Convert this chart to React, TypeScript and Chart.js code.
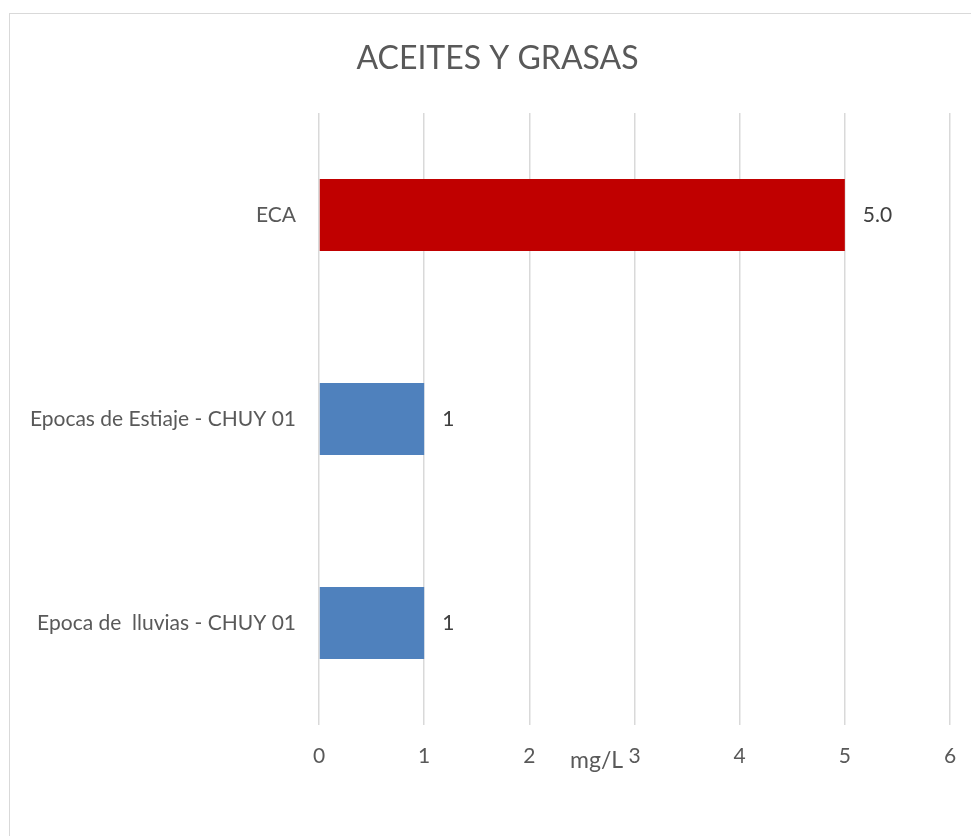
import React, { useEffect, useRef } from "react";
import { Chart, registerables } from "chart.js";

Chart.register(...registerables);

const chartTitle = "ACEITES Y GRASAS";
const categories = ["ECA", "Epocas de Estiaje - CHUY 01", "Epoca de  lluvias - CHUY 01"];
const values = [5, 1, 1];
const valueDecimals = [1, 0, 0];
const barColors = ["#C00000", "#4F81BD", "#4F81BD"];
const xTicks = [0, 1, 2, 3, 4, 5, 6];
const xAxisTitle = "mg/L";

const FONT = "Lato, 'Open Sans', sans-serif";
const TEXT = "#595959";

const titlePlugin = {
  id: "customTitle",
  afterDraw(chart: any) {
    const ctx = chart.ctx;
    ctx.save();
    ctx.font = `32px ${FONT}`;
    ctx.fillStyle = TEXT;
    ctx.textAlign = "center";
    ctx.textBaseline = "middle";
    ctx.fillText(chartTitle, chart.width / 2 + 6.5, 44.5);
    ctx.restore();
  },
};

const valueLabelPlugin = {
  id: "valueLabels",
  afterDatasetsDraw(chart: any) {
    const ctx = chart.ctx;
    const meta = chart.getDatasetMeta(0);
    ctx.save();
    ctx.font = `21px ${FONT}`;
    ctx.fillStyle = "#404040";
    ctx.textAlign = "left";
    ctx.textBaseline = "middle";
    meta.data.forEach((bar: any, i: number) => {
      const txt = values[i].toFixed(valueDecimals[i]);
      ctx.fillText(txt, bar.x + 18, bar.y);
    });
    ctx.restore();
  },
};

const axisTitlePlugin = {
  id: "axisTitle",
  afterDraw(chart: any) {
    const ctx = chart.ctx;
    const xs = chart.scales.x;
    ctx.save();
    ctx.font = `23px ${FONT}`;
    ctx.fillStyle = TEXT;
    ctx.textAlign = "center";
    ctx.textBaseline = "alphabetic";
    const px = xs.getPixelForValue(2.64);
    ctx.fillText(xAxisTitle, px, chart.chartArea.bottom + 43);
    ctx.restore();
  },
};

export default function App() {
  const ref = useRef<HTMLCanvasElement>(null);
  useEffect(() => {
    if (!ref.current) return;
    const chart = new Chart(ref.current, {
      type: "bar",
      data: {
        labels: categories,
        datasets: [
          {
            data: values,
            backgroundColor: barColors,
            categoryPercentage: 1,
            barPercentage: 0.353,
          },
        ],
      },
      options: {
        indexAxis: "y",
        animation: false,
        responsive: false,
        layout: { padding: { left: 0, right: 22, top: 99, bottom: 0 } },
        plugins: {
          legend: { display: false },
          tooltip: { enabled: false },
          title: { display: false },
        },
        scales: {
          x: {
            min: 0,
            max: 6,
            afterBuildTicks(scale: any) {
              scale.ticks = xTicks.map((v) => ({ value: v }));
            },
            afterFit(scale: any) {
              scale.height = 112;
              scale.paddingLeft = 0;
              scale.paddingRight = 0;
            },
            grid: { color: "#d9d9d9", lineWidth: 1.5, drawTicks: false },
            border: { display: false },
            ticks: {
              color: TEXT,
              padding: 19,
              font: { family: FONT, size: 21 },
            },
          },
          y: {
            afterFit(scale: any) {
              scale.width = 309;
              scale.paddingTop = 0;
              scale.paddingBottom = 0;
            },
            grid: { display: false, drawTicks: false },
            border: { display: false },
            ticks: {
              color: TEXT,
              padding: 23,
              font: { family: FONT, size: 21 },
            },
          },
        },
      },
      plugins: [titlePlugin, valueLabelPlugin, axisTitlePlugin],
    });
    return () => chart.destroy();
  }, []);

  return (
    <div
      style={{
        position: "fixed",
        left: 9,
        top: 13,
        width: 980,
        height: 840,
        border: "1px solid #d9d9d9",
        background: "#fff",
        boxSizing: "border-box",
      }}
    >
      <canvas ref={ref} width={962} height={823} style={{ display: "block", width: 962, height: 823 }} />
    </div>
  );
}
